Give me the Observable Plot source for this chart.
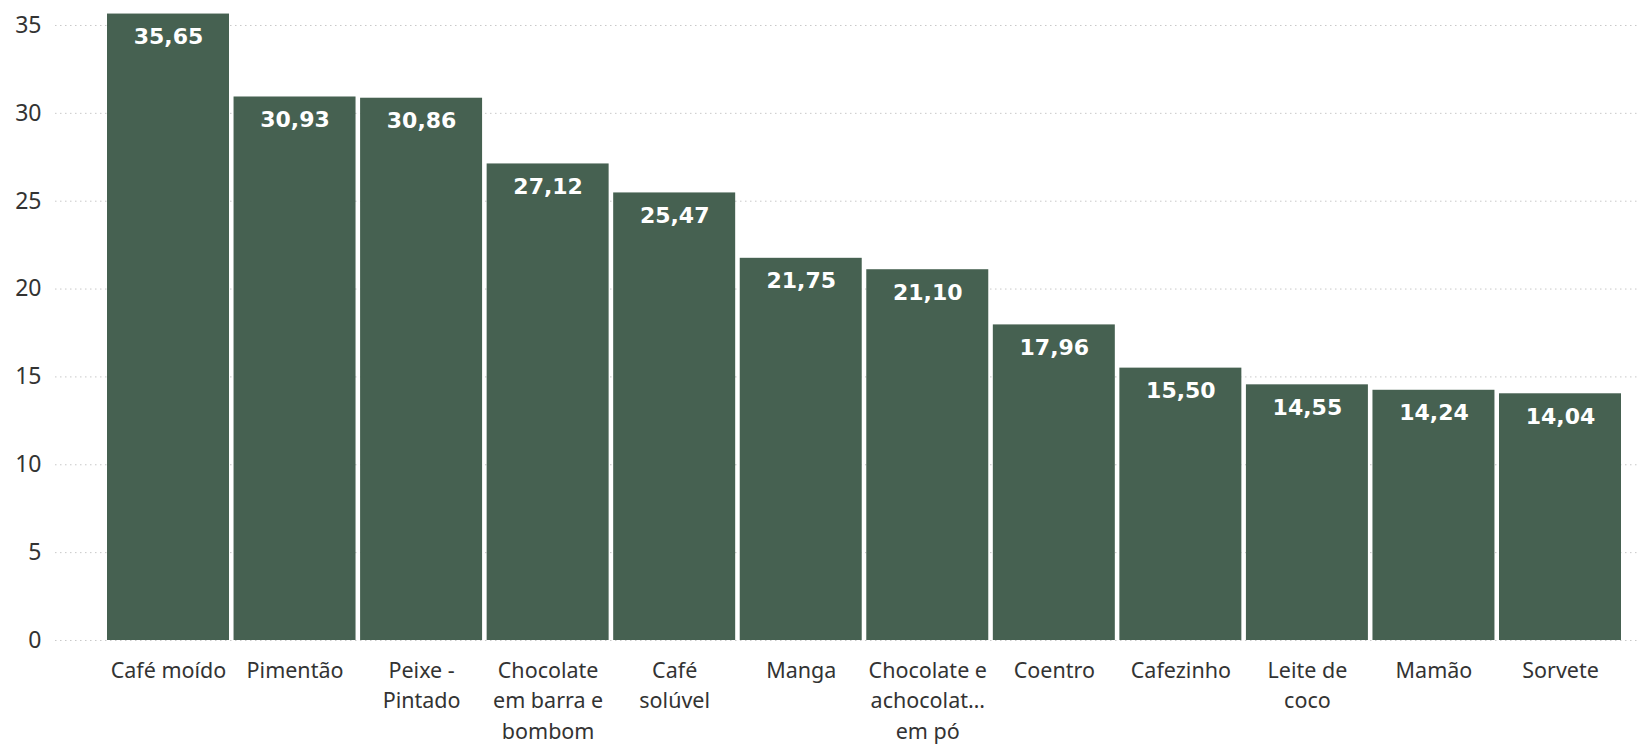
<!DOCTYPE html>
<html><head><meta charset="utf-8">
<script src="https://cdn.jsdelivr.net/npm/d3@7"></script>
<script src="https://cdn.jsdelivr.net/npm/@observablehq/plot@0.6"></script>
<style>body{margin:0;background:#fff;}</style>
</head><body><div id="chart"></div>
<script>
const categories = ["Café moído", "Pimentão", "Peixe - Pintado", "Chocolate em barra e bombom", "Café solúvel", "Manga", "Chocolate e achocolatado em pó", "Coentro", "Cafezinho", "Leite de coco", "Mamão", "Sorvete"];
const values = [35.65, 30.93, 30.86, 27.12, 25.47, 21.75, 21.10, 17.96, 15.50, 14.55, 14.24, 14.04];
const tickLabels = ["Café moído", "Pimentão", "Peixe -\nPintado", "Chocolate\nem barra e\nbombom", "Café\nsolúvel", "Manga", "Chocolate e\nachocolat…\nem pó", "Coentro", "Cafezinho", "Leite de\ncoco", "Mamão", "Sorvete"];
const yTicks = [0, 5, 10, 15, 20, 25, 30, 35];

const data = categories.map((c, i) => ({category: c, value: values[i]}));
const labelOf = new Map(categories.map((c, i) => [c, tickLabels[i]]));
const fmt = v => v.toFixed(2).replace(".", ",");

const chart = Plot.plot({
  width: 1637, height: 745,
  marginLeft: 55, marginRight: 0, marginTop: 0, marginBottom: 105,
  style: {fontFamily: "'Noto Sans', sans-serif", fontSize: "20px", color: "#333", background: "#fff"},
  x: {domain: categories, range: [107, 1621], paddingInner: 0.036, paddingOuter: 0, round: false, label: null},
  y: {domain: [0, 36], range: [640, 7.4], label: null},
  marks: [
    Plot.gridY(yTicks, {stroke: "#c8c8c8", strokeOpacity: 1, strokeDasharray: "1.5,3.5"}),
    Plot.barY(data, {x: "category", y: "value", fill: "#466151"}),
    Plot.text(data, {x: "category", y: "value", text: d => fmt(d.value), dy: 23, fill: "white", fontWeight: "bold", fontSize: 22, fontFamily: "DejaVu Sans"}),
    Plot.axisY({ticks: yTicks, tickSize: 0, tickPadding: 14, label: null, fontSize: 23}),
    Plot.axisX({tickSize: 0, tickPadding: 16, tickFormat: c => labelOf.get(c), lineAnchor: "top", lineHeight: 1.41, fontSize: 21.5})
  ]
});
document.getElementById("chart").appendChild(chart);
</script>
</body></html>
